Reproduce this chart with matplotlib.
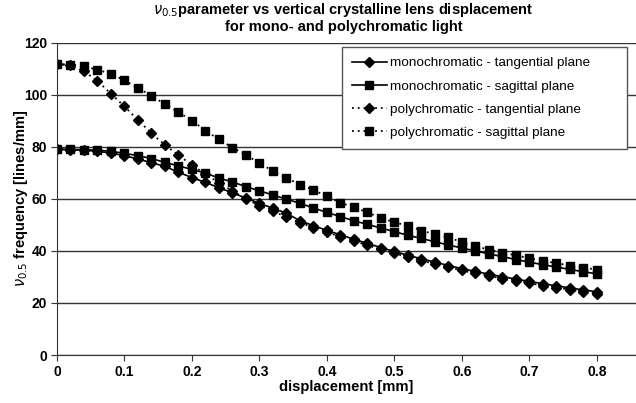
import matplotlib.pyplot as plt

plt.rcParams['font.family'] = ['Liberation Sans', 'DejaVu Sans']

# displacement [mm]
x = [0.00, 0.02, 0.04, 0.06, 0.08, 0.10, 0.12, 0.14, 0.16, 0.18,
     0.20, 0.22, 0.24, 0.26, 0.28, 0.30, 0.32, 0.34, 0.36, 0.38,
     0.40, 0.42, 0.44, 0.46, 0.48, 0.50, 0.52, 0.54, 0.56, 0.58,
     0.60, 0.62, 0.64, 0.66, 0.68, 0.70, 0.72, 0.74, 0.76, 0.78, 0.80]

# nu_0.5 frequency [lines/mm]
mono_tan = [79.0, 78.9, 78.7, 78.3, 77.6, 76.6, 75.3, 73.9, 72.5, 70.2,
            68.2, 66.3, 64.3, 62.3, 60.3, 58.3, 56.4, 54.5, 51.6, 49.7,
            47.9, 46.2, 44.5, 42.9, 41.3, 39.8, 38.3, 37.0, 35.7, 34.4,
            33.2, 32.1, 31.1, 30.1, 29.2, 28.3, 27.4, 26.6, 25.8, 25.0, 24.3]
mono_sag = [79.1, 79.0, 78.9, 78.7, 78.3, 77.5, 76.6, 75.5, 74.0, 72.7,
            71.3, 69.9, 68.0, 66.5, 64.7, 63.1, 61.5, 59.9, 58.3, 56.5,
            54.8, 53.2, 51.6, 50.2, 48.8, 47.4, 46.0, 44.8, 43.5, 42.3,
            41.1, 40.0, 38.9, 37.8, 36.7, 35.7, 34.7, 33.8, 32.9, 32.0, 31.2]
poly_tan = [111.8, 111.3, 109.0, 105.3, 100.4, 95.5, 90.3, 85.2, 80.7, 76.8,
            73.0, 69.5, 66.2, 63.0, 60.0, 57.4, 55.3, 53.0, 50.9, 49.0,
            47.2, 45.5, 43.8, 42.2, 40.6, 39.1, 37.6, 36.3, 35.0, 33.7,
            32.5, 31.4, 30.4, 29.4, 28.5, 27.6, 26.7, 25.9, 25.1, 24.3, 23.6]
poly_sag = [111.8, 111.6, 110.9, 109.6, 108.1, 105.5, 102.6, 99.6, 96.4, 93.3,
            90.1, 86.2, 82.9, 79.7, 76.9, 73.7, 70.7, 68.1, 65.5, 63.4,
            61.0, 58.5, 56.8, 54.8, 52.7, 51.0, 49.7, 47.8, 46.4, 45.2,
            43.4, 41.8, 40.5, 39.3, 38.3, 37.2, 36.2, 35.3, 34.4, 33.6, 32.8]

fig = plt.figure(figsize=(6.36, 4.03), dpi=100)
ax = fig.add_axes([0.0896, 0.119, 0.9104, 0.775])

dot = (0, (1, 2.2))
ax.plot(x, mono_tan, color='black', lw=1.2, marker='D', ms=5.5,
        label='monochromatic - tangential plane')
ax.plot(x, mono_sag, color='black', lw=1.2, marker='s', ms=5.5,
        label='monochromatic - sagittal plane')
ax.plot(x, poly_tan, color='black', lw=1.3, ls=dot, marker='D', ms=5.5,
        label='polychromatic - tangential plane')
ax.plot(x, poly_sag, color='black', lw=1.3, ls=dot, marker='s', ms=5.5,
        label='polychromatic - sagittal plane')

ax.set_xlim(0, 0.858)
ax.set_ylim(0, 120)
ax.set_xticks([0, 0.1, 0.2, 0.3, 0.4, 0.5, 0.6, 0.7, 0.8])
ax.set_xticklabels(['0', '0.1', '0.2', '0.3', '0.4', '0.5', '0.6', '0.7', '0.8'])
ax.set_yticks(range(0, 121, 20))
ax.grid(axis='y', color='#333333', lw=1)
ax.set_axisbelow(True)

for s in ['top', 'right']:
    ax.spines[s].set_visible(False)
for s in ['left', 'bottom']:
    ax.spines[s].set_color('#333333')
ax.tick_params(direction='out', length=4, color='#333333', labelsize=10, pad=3)
for lbl in ax.get_xticklabels() + ax.get_yticklabels():
    lbl.set_fontweight('bold')

ax.set_xlabel('displacement [mm]', fontsize=10.6, fontweight='bold', labelpad=1)
ax.set_ylabel(r'$\nu_{0.5}$ frequency [lines/mm]', fontsize=10.5,
              fontweight='bold')
ax.yaxis.set_label_coords(-0.047, 0.5)
fig.suptitle(r'$\nu_{0.5}$parameter vs vertical crystalline lens displacement'
             '\nfor mono- and polychromatic light',
             x=0.54, y=0.997, fontsize=10.5, fontweight='bold', linespacing=1.05)

leg = ax.legend(loc='upper left', bbox_to_anchor=(0.492, 0.0, 0.492, 0.987),
                mode='expand', fontsize=9.7,
                fancybox=False, edgecolor='#555555', framealpha=1,
                handlelength=2.6, handletextpad=0.2, borderpad=0.75,
                labelspacing=0.8, borderaxespad=0)
leg.get_frame().set_linewidth(1)

fig.savefig('out.png', dpi=100)
